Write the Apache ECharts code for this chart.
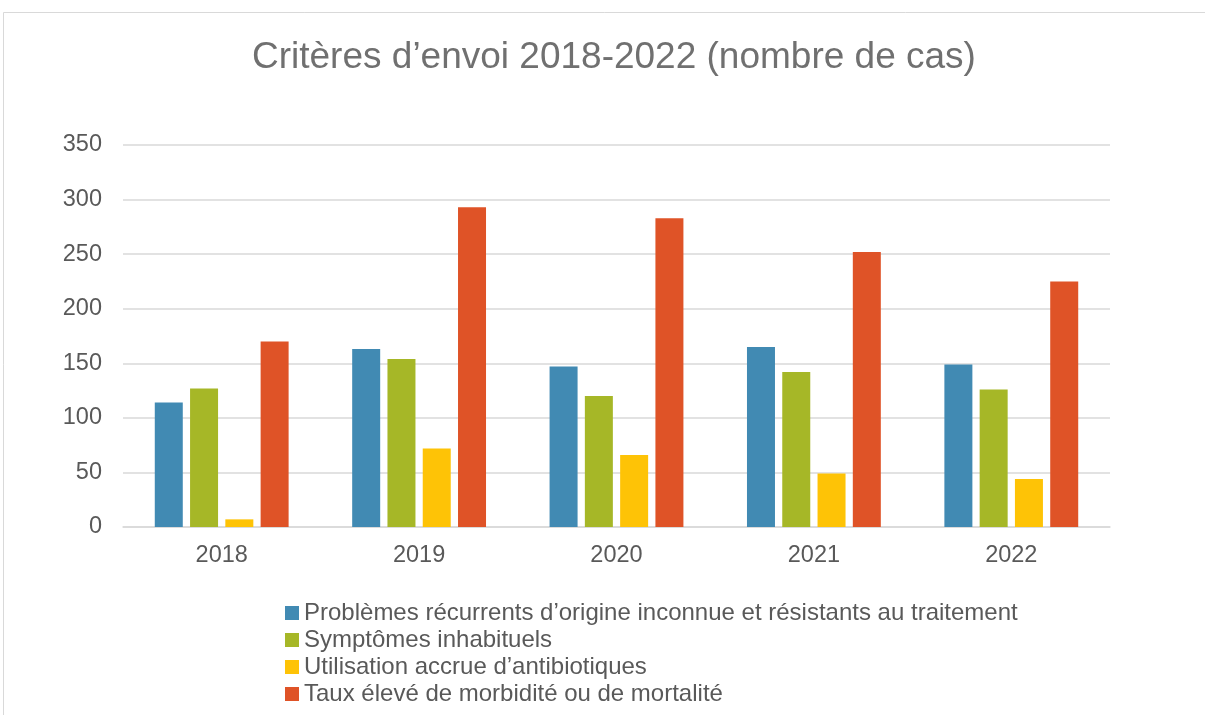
<!DOCTYPE html>
<html>
<head>
<meta charset="utf-8">
<script src="https://cdn.jsdelivr.net/npm/echarts@6/dist/echarts.min.js"></script>
<style>
  html, body { margin: 0; padding: 0; background: #fff; }
  #chart { width: 1205px; height: 715px; }
</style>
</head>
<body>
<div id="chart"></div>
<script>
// données
const years = ['2018', '2019', '2020', '2021', '2022'];
const seriesNames = [
    'Problèmes récurrents d’origine inconnue et résistants au traitement',
    'Symptômes inhabituels',
    'Utilisation accrue d’antibiotiques',
    'Taux élevé de morbidité ou de mortalité'
];
const recurrents = [114, 163, 147, 165, 149];
const symptomes = [127, 154, 120, 142, 126];
const antibiotiques = [7, 72, 66, 49, 44];
const morbidite = [170, 293, 283, 252, 225];
const yTicks = [0, 50, 100, 150, 200, 250, 300, 350];

const colorArr = ['#418AB3', '#A6B727', '#FEC306', '#DF5327'];
const fontFamily = '"Liberation Sans", Arial, sans-serif';

const myChart = echarts.init(document.getElementById('chart'), null, { renderer: 'canvas' });

function makeSeries(name, data, i) {
    return {
        name: name,
        type: 'bar',
        data: data,
        barWidth: 28,
        barGap: '26%',
        itemStyle: { color: colorArr[i] },
        emphasis: { disabled: true }
    };
}

myChart.setOption({
    backgroundColor: '#ffffff',
    animation: false,
    graphic: [{
        type: 'rect',
        shape: { x: 3.5, y: 12.5, width: 1300, height: 800 },
        style: { fill: 'none', stroke: '#d9d9d9', lineWidth: 1 },
        silent: true
    }],
    title: {
        text: 'Critères d’envoi 2018-2022 (nombre de cas)',
        left: 247,
        top: 34,
        textStyle: {
            fontFamily: fontFamily,
            fontSize: 37,
            fontWeight: 'normal',
            color: '#707070'
        }
    },
    legend: {
        orient: 'vertical',
        left: 280,
        top: 596,
        itemWidth: 14,
        itemHeight: 14,
        itemGap: 3,
        icon: 'rect',
        data: seriesNames,
        textStyle: {
            fontFamily: fontFamily,
            fontSize: 24,
            color: '#595959'
        }
    },
    grid: {
        left: 123,
        right: 95,
        top: 145,
        bottom: 188
    },
    xAxis: {
        type: 'category',
        data: years,
        axisLine: { lineStyle: { color: '#d9d9d9', width: 1.5 } },
        axisTick: { show: false },
        axisLabel: {
            fontFamily: fontFamily,
            fontSize: 23.5,
            color: '#595959',
            margin: 17
        }
    },
    yAxis: {
        type: 'value',
        min: yTicks[0],
        max: yTicks[yTicks.length - 1],
        interval: 50,
        axisLine: { show: false },
        axisTick: { show: false },
        splitLine: { lineStyle: { color: '#d9d9d9', width: 1.5 } },
        axisLabel: {
            fontFamily: fontFamily,
            fontSize: 23.5,
            color: '#595959',
            margin: 21
        }
    },
    series: [
        makeSeries(seriesNames[0], recurrents, 0),
        makeSeries(seriesNames[1], symptomes, 1),
        makeSeries(seriesNames[2], antibiotiques, 2),
        makeSeries(seriesNames[3], morbidite, 3)
    ]
});
</script>
</body>
</html>
